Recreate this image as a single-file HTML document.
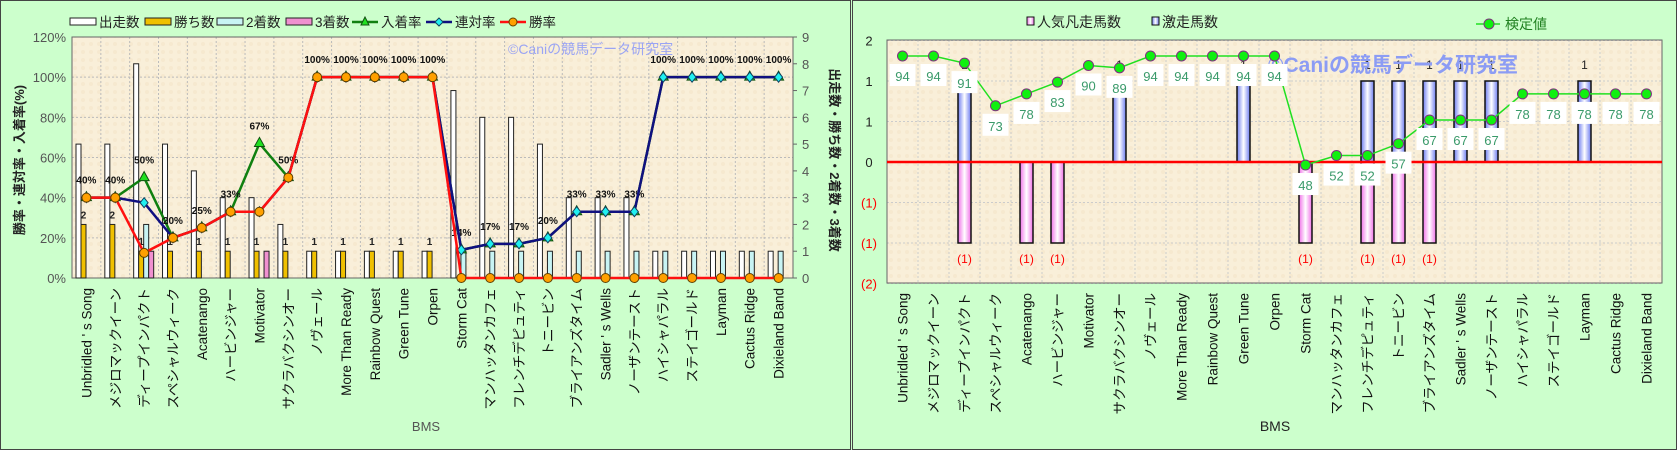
<!DOCTYPE html>
<html><head><meta charset="utf-8"><style>
html,body{margin:0;padding:0;background:#ccffcc;}
svg{display:block;font-family:"Liberation Sans","Noto Sans CJK JP",sans-serif;}
</style></head><body>
<svg id="chart" width="1677" height="450" viewBox="0 0 1677 450" xmlns="http://www.w3.org/2000/svg">
<defs>
<pattern id="grid" width="8" height="8" patternUnits="userSpaceOnUse"><rect width="8" height="8" fill="#f9efd9"/><circle cx="3" cy="4" r="2" fill="#f6e9cf"/></pattern>
<linearGradient id="gBlue" x1="0" x2="1"><stop offset="0" stop-color="#6c7cf0"/><stop offset="0.5" stop-color="#ffffff"/><stop offset="1" stop-color="#6c7cf0"/></linearGradient>
<linearGradient id="gPink" x1="0" x2="1"><stop offset="0" stop-color="#f070e8"/><stop offset="0.5" stop-color="#ffffff"/><stop offset="1" stop-color="#f070e8"/></linearGradient>
</defs>
<rect x="0.5" y="0.5" width="850" height="449" fill="#ccffcc" stroke="#444"/>
<rect x="852.5" y="0.5" width="824" height="449" fill="#ccffcc" stroke="#444"/>
<g id="L"></g>
<g id="R"></g>
</svg>
<script>
const cats = ["Unbridled ' s  Song","メジロマックイーン","ディープインパクト","スペシャルウィーク","Acatenango","ハービンジャー","Motivator","サクラバクシンオー","ノヴェール","More  Than  Ready","Rainbow  Quest","Green  Tune","Orpen","Storm  Cat","マンハッタンカフェ","フレンチデピュティ","トニービン","ブライアンズタイム","Sadler ' s  Wells","ノーザンテースト","ハイシャパラル","ステイゴールド","Layman","Cactus  Ridge","Dixieland  Band"];
const starts = [5,5,8,5,4,3,3,2,1,1,1,1,1,7,6,6,5,3,3,3,1,1,1,1,1];
const wins   = [2,2,1,1,1,1,1,1,1,1,1,1,1,0,0,0,0,0,0,0,0,0,0,0,0];
const seconds= [0,0,2,0,0,0,0,0,0,0,0,0,0,1,1,1,1,1,1,1,1,1,1,1,1];
const thirds = [0,0,1,0,0,0,1,0,0,0,0,0,0,0,0,0,0,0,0,0,0,0,0,0,0];
const winRate  = [40,40,12.5,20,25,33,33,50,100,100,100,100,100,0,0,0,0,0,0,0,0,0,0,0,0];
const rentai   = [40,40,37.5,20,25,33,33,50,100,100,100,100,100,14,17,17,20,33,33,33,100,100,100,100,100];
const placeRate= [40,40,50,20,25,33,67,50,100,100,100,100,100,14,17,17,20,33,33,33,100,100,100,100,100];
const leftTicks = [0,20,40,60,80,100,120];
const countTicks = [0,1,2,3,4,5,6,7,8,9];
const scoreVals = [94,94,91,73,78,83,90,89,94,94,94,94,94,48,52,52,57,67,67,67,78,78,78,78,78];
const gekisou = [0,0,1,0,0,0,0,1,0,0,0,1,0,0,0,1,1,1,1,1,0,0,1,0,0];
const bonsou  = [0,0,-1,0,-1,-1,0,0,0,0,0,0,0,-1,0,-1,-1,-1,0,0,0,0,0,0,0];
const rightTicks = [-2,-1.333,-0.667,0,0.667,1.333,2];
const rightTickLabels = ["(2)","(1)","(1)","0","1","1","2"];

const NS="http://www.w3.org/2000/svg";
function mk(parent,tag,attrs,text){const e=document.createElementNS(NS,tag);for(const k in attrs)e.setAttribute(k,attrs[k]);if(text!==undefined)e.textContent=text;parent.appendChild(e);return e;}

/* ---------- LEFT CHART ---------- */
const L=document.getElementById('L');
const lx0=72,lx1=793,ly0=37,ly1=278,n=cats.length,lw=(lx1-lx0)/n;
const yP=v=>ly1-(v/120)*(ly1-ly0);
const yC=v=>ly1-(v/9)*(ly1-ly0);
const cx=i=>lx0+i*lw;
let plot=mk(L,'rect',{x:lx0,y:ly0,width:lx1-lx0,height:ly1-ly0,fill:'url(#grid)'});


for(let i=1;i<n;i++)mk(L,'line',{x1:cx(i),x2:cx(i),y1:ly0,y2:ly1,stroke:'#bbb','stroke-dasharray':'2,2','stroke-width':1});
leftTicks.forEach(t=>{
  mk(L,'line',{x1:lx0,x2:lx1,y1:yP(t),y2:yP(t),stroke:'#bbb','stroke-dasharray':'2,2'});
  const tl=mk(L,'text',{x:lx0-6,y:yP(t)+5,'text-anchor':'end','font-size':13,fill:'#555'},t+'%');
  
  
});
countTicks.forEach(t=>{
  mk(L,'line',{x1:lx1,x2:lx1+4,y1:yC(t),y2:yC(t),stroke:'#666'});
  const tl=mk(L,'text',{x:lx1+9,y:yC(t)+5,'font-size':13,fill:'#555'},t);
  
  
});
mk(L,'rect',{x:lx0,y:ly0,width:lx1-lx0,height:ly1-ly0,fill:'none',stroke:'#666'});
const barSets=[[starts,'#ffffff',4,'bar-starts'],[wins,'#f0c000',9,'bar-wins'],[seconds,'#c8f4f4',14,'bar-seconds'],[thirds,'#f090d0',19,'bar-thirds']];
barSets.forEach(([arr,col,off,name])=>{
  arr.forEach((v,i)=>{ if(v<=0)return;
    const r=mk(L,'rect',{x:cx(i)+off,y:yC(v),width:5,height:ly1-yC(v),fill:col,stroke:'#222','stroke-width':1});
    
    
  });
});
wins.forEach((v,i)=>{ if(v<=0)return;
  const t=mk(L,'text',{x:cx(i)+11.5,y:yC(v)-6,'text-anchor':'middle','font-size':10,'font-weight':'bold',fill:'#222'},v);
  
  
});
function line(arr,col,name){
  const p=mk(L,'polyline',{points:arr.map((v,i)=>(cx(i)+lw/2)+','+yP(v)).join(' '),fill:'none',stroke:col,'stroke-width':2.5});
  
  
}
line(placeRate,'#108010','place-rate-line');
placeRate.forEach((v,i)=>{const x=cx(i)+lw/2,y=yP(v);
  const m=mk(L,'polygon',{points:`${x},${y-6} ${x-5},${y+3} ${x+5},${y+3}`,fill:'#20e020',stroke:'#105010'});
  
  
  const t=mk(L,'text',{x:x,y:y-14,'text-anchor':'middle','font-size':10,'font-weight':'bold',fill:'#111'},Math.round(v)+'%');
  
  
});
line(rentai,'#101080','rentai-rate-line');
rentai.forEach((v,i)=>{const x=cx(i)+lw/2,y=yP(v);
  const m=mk(L,'polygon',{points:`${x},${y-5} ${x+4},${y} ${x},${y+5} ${x-4},${y}`,fill:'#20f0f0',stroke:'#104060'});
  
  
});
line(winRate,'#ff1010','win-rate-line');
winRate.forEach((v,i)=>{const x=cx(i)+lw/2,y=yP(v);
  const m=mk(L,'circle',{cx:x,cy:y,r:4.5,fill:'#ffa000',stroke:'#604000'});
  
  
});
cats.forEach((c,i)=>{const x=cx(i)+lw/2+5;
  const t=mk(L,'text',{x:x,y:288,transform:`rotate(-90 ${x} 288)`,'text-anchor':'end','font-size':13.5,fill:'#111','xml:space':'preserve'},c);
  
  
});
let t=mk(L,'text',{x:426,y:431,'text-anchor':'middle','font-size':13,fill:'#555'},'BMS');


t=mk(L,'text',{x:24,y:160,transform:'rotate(-90 24 160)','text-anchor':'middle','font-size':13,'font-weight':'bold',fill:'#222'},'勝率・連対率・入着率(%)');


t=mk(L,'text',{x:830,y:160,transform:'rotate(90 830 160)','text-anchor':'middle','font-size':13,'font-weight':'bold',fill:'#222'},'出走数・勝ち数・2着数・3着数');


t=mk(L,'text',{x:508,y:54,'font-size':14,fill:'#9aa4f4'},'©Caniの競馬データ研究室');


const legItems=[['box','#ffffff','出走数',70],['box','#f0c000','勝ち数',145],['box','#c8f4f4','2着数',217],['box','#f090d0','3着数',286],['tri','#108010','入着率',352],['dia','#101080','連対率',426],['cir','#ff1010','勝率',500]];
legItems.forEach(([k,c,lab,x])=>{
  const g=mk(L,'g',{});
  
  
  let tx;
  if(k==='box'){mk(g,'rect',{x:x,y:18,width:26,height:7,fill:c,stroke:'#222'});tx=x+29;}
  else{mk(g,'line',{x1:x,x2:x+26,y1:22,y2:22,stroke:c,'stroke-width':2.5});
    if(k==='tri')mk(g,'polygon',{points:`${x+13},17 ${x+9},25 ${x+17},25`,fill:'#20e020',stroke:'#105010'});
    if(k==='dia')mk(g,'polygon',{points:`${x+13},18 ${x+17},22 ${x+13},26 ${x+9},22`,fill:'#20f0f0',stroke:'#104060'});
    if(k==='cir')mk(g,'circle',{cx:x+13,cy:22,r:4,fill:'#ffa000',stroke:'#604000'});
    tx=x+29;}
  mk(g,'text',{x:tx,y:27,'font-size':13.5,fill:'#222'},lab);
});

/* ---------- RIGHT CHART ---------- */
const R=document.getElementById('R');
const rx0=887,rx1=1662,ry0=40,ry1=283,rw=(rx1-rx0)/n;
const yR=v=>162-v*60.75;
const yB=v=>162-v*81;
const yS=v=>56+(94-v)*2.37;
const rcx=i=>rx0+i*rw+rw/2;
plot=mk(R,'rect',{x:rx0,y:ry0,width:rx1-rx0,height:ry1-ry0,fill:'url(#grid)'});


for(let i=1;i<n;i++)mk(R,'line',{x1:rx0+i*rw,x2:rx0+i*rw,y1:ry0,y2:ry1,stroke:'#ccc','stroke-dasharray':'2,2'});
rightTicks.forEach((v,k)=>{
  mk(R,'line',{x1:rx0,x2:rx1,y1:yR(v),y2:yR(v),stroke:'#ccc','stroke-dasharray':'2,2'});
  const tl=mk(R,'text',{x:rx0-18,y:yR(v)+5,'text-anchor':'middle','font-size':13,fill:v<0?'#ff0000':'#222'},rightTickLabels[k]);
  
  
});
mk(R,'rect',{x:rx0,y:ry0,width:rx1-rx0,height:ry1-ry0,fill:'none',stroke:'#666'});
gekisou.forEach((v,i)=>{ if(!v)return;
  const b=mk(R,'rect',{x:rcx(i)-6.5,y:yB(v),width:13,height:yB(0)-yB(v),fill:'url(#gBlue)',stroke:'#111','stroke-width':1.5});
  
  
  const t=mk(R,'text',{x:rcx(i),y:yB(v)-12,'text-anchor':'middle','font-size':12,fill:'#222'},v);
  
  
});
bonsou.forEach((v,i)=>{ if(!v)return;
  const b=mk(R,'rect',{x:rcx(i)-6.5,y:yB(0),width:13,height:yB(v)-yB(0),fill:'url(#gPink)',stroke:'#111','stroke-width':1.5});
  
  
  const t=mk(R,'text',{x:rcx(i),y:yB(v)+20,'text-anchor':'middle','font-size':12,fill:'#ff0000'},'('+Math.abs(v)+')');
  
  
});
mk(R,'line',{x1:rx0,x2:rx1,y1:yR(0),y2:yR(0),stroke:'#ff0000','stroke-width':2.5});
t=mk(R,'text',{x:1268,y:72,'font-size':21,'font-weight':'bold',fill:'#8c9cf4'},'©Caniの競馬データ研究室');


let pl=mk(R,'polyline',{points:scoreVals.map((v,i)=>rcx(i)+','+yS(v)).join(' '),fill:'none',stroke:'#20e020','stroke-width':1.5});


scoreVals.forEach((v,i)=>{const x=rcx(i),y=yS(v);
  const m=mk(R,'circle',{cx:x,cy:y,r:5,fill:'#10f010',stroke:'#803080'});
  
  
  mk(R,'rect',{x:x-13,y:y+8,width:26,height:22,fill:'#ffffff'});
  const t=mk(R,'text',{x:x,y:y+25,'text-anchor':'middle','font-size':13,fill:'#3a9a6a'},v);
  
  
});
cats.forEach((c,i)=>{const x=rcx(i)+5;
  const t=mk(R,'text',{x:x,y:293,transform:`rotate(-90 ${x} 293)`,'text-anchor':'end','font-size':13.5,fill:'#111','xml:space':'preserve'},c);
  
  
});
t=mk(R,'text',{x:1275,y:431,'text-anchor':'middle','font-size':14,fill:'#222'},'BMS');


let g=mk(R,'g',{});


mk(g,'rect',{x:1027,y:17,width:7,height:8,fill:'url(#gPink)',stroke:'#111'});
mk(g,'text',{x:1037,y:27,'font-size':14,fill:'#222'},'人気凡走馬数');
g=mk(R,'g',{});


mk(g,'rect',{x:1152,y:17,width:7,height:8,fill:'url(#gBlue)',stroke:'#111'});
mk(g,'text',{x:1162,y:27,'font-size':14,fill:'#222'},'激走馬数');
g=mk(R,'g',{});


mk(g,'line',{x1:1476,x2:1500,y1:24,y2:24,stroke:'#20e020','stroke-width':1.5});
mk(g,'circle',{cx:1489,cy:24,r:5,fill:'#10f010',stroke:'#803080'});
mk(g,'text',{x:1505,y:29,'font-size':14,fill:'#208020'},'検定値');
</script>
</body></html>
